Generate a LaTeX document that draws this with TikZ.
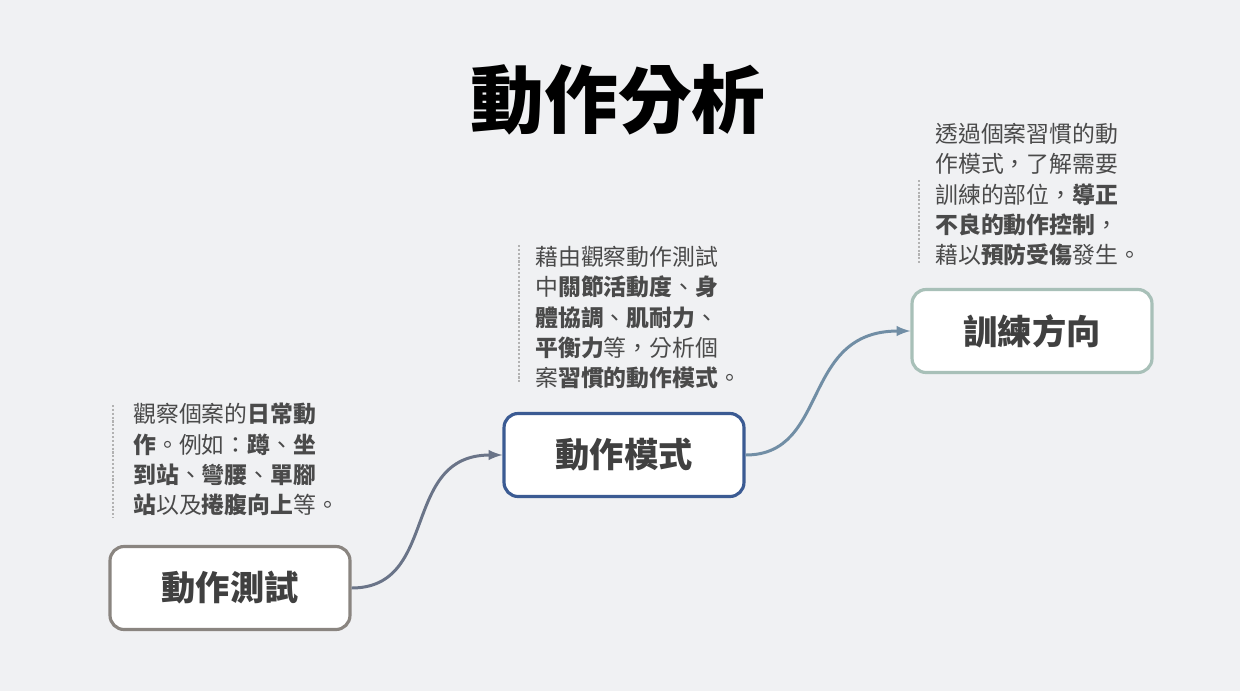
\documentclass[tikz,border=0pt]{standalone}
\usepackage{fontspec}
\setmainfont{Noto Sans CJK TC}
\usetikzlibrary{positioning}
\definecolor{bg}{HTML}{F0F1F3}
\definecolor{testgray}{HTML}{8A8580}
\definecolor{modeblue}{HTML}{3B5B93}
\definecolor{dirsage}{HTML}{A8C0B8}
\definecolor{bodytext}{HTML}{4A4A4A}

\begin{document}
\begin{tikzpicture}[x = 0.02cm, y = -0.02cm]
\tikzstyle{stepBox} = [rounded corners = 8pt, line width = 1.8pt, fill = white, minimum width = 4.8cm, minimum height = 1.66cm, font = \fontsize{19.5}{22}\selectfont\bfseries, text = black!75]
\tikzstyle{noteText} = [anchor = north west, align = left, inner sep = 0pt, text = bodytext, font = \fontsize{13}{17.2}\selectfont]
\tikzstyle{noteRule} = [densely dotted, line width = 1.2pt, gray!60]
\tikzstyle{flowLink} = [line width = 1.7pt, -latex]
\fill[bg] (0,0) rectangle (1240,691);
\node[font = \fontsize{42}{46}\selectfont\bfseries] (title) at (618,100) {動作分析};
\node[stepBox, draw = testgray] (test) at (230,588) {動作測試};
\node[stepBox, draw = modeblue] (mode) at (624,455) {動作模式};
\node[stepBox, draw = dirsage] (dir) at (1032,331) {訓練方向};
\draw[flowLink, testgray!60!modeblue] (test.east) .. controls (440,588) and (400,455) .. (mode.west);
\draw[flowLink, modeblue!50!dirsage] (mode.east) .. controls (830,455) and (800,331) .. (dir.west);
\node[noteText] (testnote) at (133,403) {觀察個案的\textbf{日常動}\\\textbf{作}。例如：\textbf{蹲}、\textbf{坐}\\\textbf{到站}、\textbf{彎腰}、\textbf{單腳}\\\textbf{站}以及\textbf{捲腹向上}等。};
\node[noteText] (modenote) at (535,246) {藉由觀察動作測試\\中\textbf{關節活動度}、\textbf{身}\\\textbf{體協調}、\textbf{肌耐力}、\\\textbf{平衡力}等，分析個\\案\textbf{習慣的動作模式}。};
\node[noteText] (dirnote) at (935,123) {透過個案習慣的動\\作模式，了解需要\\訓練的部位，\textbf{導正}\\\textbf{不良的動作控制}，\\藉以\textbf{預防受傷}發生。};
\draw[noteRule] (113,405) -- (113,518);
\draw[noteRule] (519,245) -- (519,383);
\draw[noteRule] (919,180) -- (919,265);
\end{tikzpicture}
\end{document}
